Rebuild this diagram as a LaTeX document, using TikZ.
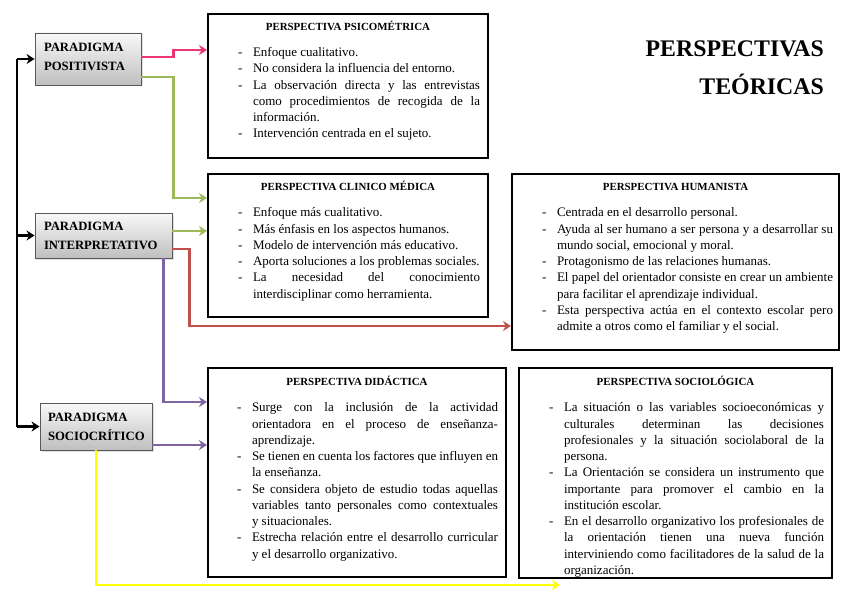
\documentclass[tikz,border=0pt]{standalone}
\usepackage{fontspec}
\setmainfont{Liberation Serif}
\usepackage{enumitem}
\usetikzlibrary{positioning, arrows.meta, shadows, calc}

\definecolor{rosa}{HTML}{EC3572}
\definecolor{verde}{HTML}{9BBB59}
\definecolor{rojo}{HTML}{C0504D}
\definecolor{morado}{HTML}{8064A2}
\definecolor{amarillo}{HTML}{FFFF00}

% texto de las cajas de perspectivas
\newcommand{\perspbody}{\fontsize{13}{16.25}\selectfont\tolerance=10000\hyphenpenalty=10000}
\newcommand{\persphead}[1]{{\centering\fontsize{10.9}{13}\selectfont\bfseries\rule{0pt}{10pt}#1\par}\vspace{10.5pt}}
\newlist{guiones}{itemize}{1}
\setlist[guiones]{label=-, labelsep=10.5pt, topsep=0pt, itemsep=0pt, parsep=0pt, partopsep=0pt}

\begin{document}
\begin{tikzpicture}[x=1pt, y=-1pt,
    parabox/.style={draw=gray!70!black, line width=0.9pt, top color=gray!5, bottom color=gray!50,
      drop shadow={shadow xshift=1.5pt, shadow yshift=-1.5pt, fill=gray!50},
      align=left, inner xsep=9pt, font=\fontsize{12.7}{19}\selectfont\bfseries},
    perbox/.style={draw, line width=2pt, anchor=north west, inner sep=0pt, fill=white,
      drop shadow={shadow xshift=1.2pt, shadow yshift=-1.2pt, fill=gray!60}},
    conn/.style={line width=2.4pt, -{Stealth[length=8pt, width=10pt]}},
    titulo/.style={align=right, inner sep=0pt, anchor=north east, font=\fontsize{23.8}{38}\selectfont\bfseries}]
  \useasboundingbox (0,0) rectangle (848,599);

  % paradigmas
  \node[parabox, text width=88pt, minimum height=52pt] (pos) at (88,59) {PARADIGMA\\POSITIVISTA\vspace{4pt}};
  \node[parabox, text width=119pt, minimum height=45pt] (int) at (103.5,235.5) {PARADIGMA\\INTERPRETATIVO};
  \node[parabox, text width=96pt, inner xsep=8pt, minimum height=47pt] (soc) at (96,426.5) {PARADIGMA\\SOCIOCRÍTICO};

  \node[titulo] (tit) at (824,41) {PERSPECTIVAS\\TEÓRICAS};

  % perspectivas
  \node[perbox] (psico) at (207,13) {\parbox[c][144pt][t]{280pt}{\perspbody\vspace*{6pt}%
    \persphead{PERSPECTIVA PSICOMÉTRICA}
    \begin{guiones}[leftmargin=45pt, rightmargin=8pt]
      \item Enfoque cualitativo.
      \item No considera la influencia del entorno.
      \item La observación directa y las entrevistas \linebreak como procedimientos de recogida de la \linebreak información.
      \item Intervención centrada en el sujeto.
    \end{guiones}}};

  \node[perbox] (clin) at (207,173) {\parbox[c][143pt][t]{280pt}{\perspbody\vspace*{6pt}%
    \persphead{PERSPECTIVA CLINICO MÉDICA}
    \begin{guiones}[leftmargin=45pt, rightmargin=8pt]
      \item Enfoque más cualitativo.
      \item Más énfasis en los aspectos humanos.
      \item Modelo de intervención más educativo.
      \item Aporta soluciones a los problemas sociales.
      \item La necesidad del conocimiento \linebreak interdisciplinar como herramienta.
    \end{guiones}}};

  \node[perbox] (hum) at (511,173) {\parbox[c][176pt][t]{327pt}{\perspbody\vspace*{6pt}%
    \persphead{PERSPECTIVA HUMANISTA}
    \begin{guiones}[leftmargin=45pt, rightmargin=6pt]
      \item Centrada en el desarrollo personal.
      \item Ayuda al ser humano a ser persona y a desarrollar su \linebreak mundo social, emocional y moral.
      \item Protagonismo de las relaciones humanas.
      \item El papel del orientador consiste en crear un ambiente \linebreak para facilitar el aprendizaje individual.
      \item Esta perspectiva actúa en el contexto escolar pero \linebreak admite a otros como el familiar y el social.
    \end{guiones}}};

  \node[perbox] (did) at (207,367) {\parbox[c][209pt][t]{298pt}{\perspbody\vspace*{7pt}%
    \persphead{PERSPECTIVA DIDÁCTICA}
    \begin{guiones}[leftmargin=44pt, rightmargin=8pt]
      \item Surge con la inclusión de la actividad \linebreak orientadora en el proceso de enseñanza-\linebreak aprendizaje.
      \item Se tienen en cuenta los factores que influyen en \linebreak la enseñanza.
      \item Se considera objeto de estudio todas aquellas \linebreak variables tanto personales como contextuales \linebreak y situacionales.
      \item Estrecha relación entre el desarrollo curricular \linebreak y el desarrollo organizativo.
    \end{guiones}}};

  \node[perbox] (socio) at (518,367) {\parbox[c][210pt][t]{313pt}{\perspbody\vspace*{7pt}%
    \persphead{PERSPECTIVA SOCIOLÓGICA}
    \begin{guiones}[leftmargin=45pt, rightmargin=8pt]
      \item La situación o las variables socioeconómicas y \linebreak culturales determinan las decisiones \linebreak profesionales y la situación sociolaboral de la \linebreak persona.
      \item La Orientación se considera un instrumento que \linebreak importante para promover el cambio en la \linebreak institución escolar.
      \item En el desarrollo organizativo los profesionales de \linebreak la orientación tienen una nueva función \linebreak interviniendo como facilitadores de la salud de la \linebreak organización.
    \end{guiones}}};

  % eje negro
  \coordinate (eje) at (17,0);
  \draw[line width=2.4pt] (eje |- pos.west) -- (eje |- soc.west);
  \draw[conn] (eje |- pos.west) -- (pos.west);
  \draw[conn] (eje |- int.west) -- (int.west);
  \draw[conn] (eje |- soc.west) -- (soc.west);

  % conexiones
  \draw[conn, rosa] ([yshift=2pt]pos.east) -- ++(32,0) |- ([yshift=-37pt]psico.north west);
  \draw[conn, verde] ([yshift=-18pt]pos.east) -- ++(32,0) |- ([yshift=-25pt]clin.north west);
  \coordinate (v2) at ([yshift=4.5pt]int.east);
  \draw[conn, verde] (v2) -- (v2 -| clin.west);
  \draw[conn, rojo] ([yshift=-13.5pt]int.east) -- ++(17,0) |- ([yshift=-153pt]hum.north west);
  \draw[conn, morado] ([xshift=-9pt]int.south east) |- ([yshift=-35pt]did.north west);
  \coordinate (m2) at ([yshift=-18.5pt]soc.east);
  \draw[conn, morado] (m2) -- (m2 -| did.west);
  \coordinate (yfin) at (560,585);
  \draw[conn, amarillo] (soc.south) |- (yfin);
\end{tikzpicture}
\end{document}
